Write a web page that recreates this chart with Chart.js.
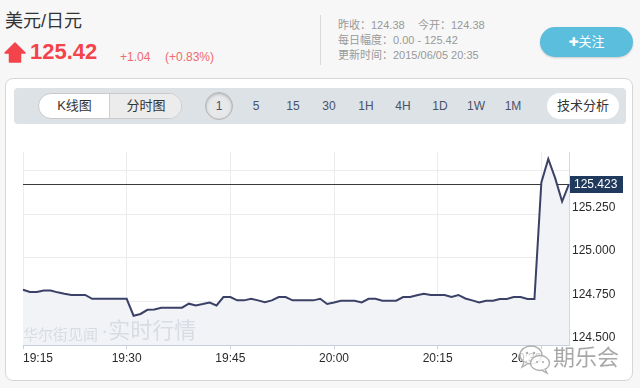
<!DOCTYPE html>
<html><head><meta charset="utf-8">
<script src="https://cdn.jsdelivr.net/npm/chart.js@4.4.1/dist/chart.umd.min.js"></script>
<style>
html,body{margin:0;padding:0;width:640px;height:388px;overflow:hidden;background:#f7f7f7;font-family:"Liberation Sans","Noto Sans CJK SC",sans-serif;}
.a{position:absolute;white-space:nowrap;}
.cjk{font-family:"Liberation Sans","Noto Sans CJK SC",sans-serif;}
.tb{font-size:12px;color:#4a5266;line-height:14px;top:99px;transform:translateX(-50%);}
</style></head><body>
<!-- header -->
<div class="a cjk" style="left:5px;top:11px;font-size:18px;line-height:20px;color:#333;">美元/日元</div>
<svg class="a" style="left:4px;top:42px" width="22" height="21" viewBox="0 0 22 21"><path d="M11 1 L21 11 L16.5 11 L16.5 20 L5.5 20 L5.5 11 L1 11 Z" fill="#f3434b" stroke="#f3434b" stroke-width="1.5" stroke-linejoin="round"/></svg>
<div class="a" style="left:30px;top:41px;font-size:22px;line-height:22px;font-weight:bold;color:#f3434b;">125.42</div>
<div class="a" style="left:120px;top:50px;font-size:12px;line-height:14px;color:#f26a6e;">+1.04</div>
<div class="a" style="left:165px;top:50px;font-size:12px;line-height:14px;color:#f26a6e;">(+0.83%)</div>
<div class="a" style="left:320px;top:15px;width:1px;height:50px;background:#dadada;"></div>
<div class="a cjk" style="left:338px;top:18px;font-size:11px;line-height:15px;color:#999;">昨收：124.38</div>
<div class="a cjk" style="left:418px;top:18px;font-size:11px;line-height:15px;color:#999;">今开：124.38</div>
<div class="a cjk" style="left:338px;top:33px;font-size:11px;line-height:15px;color:#999;">每日幅度：0.00 - 125.42</div>
<div class="a cjk" style="left:338px;top:48px;font-size:11px;line-height:15px;color:#999;">更新时间：2015/06/05 20:35</div>
<div class="a" style="left:540px;top:27px;width:93px;height:30px;border-radius:15px;background:#5bbedc;box-shadow:0 1px 2px rgba(0,0,0,0.18);color:#fff;text-align:center;line-height:30px;font-size:13px;"><span style="font-family:'DejaVu Sans';font-size:12px;">✚</span><span class="cjk">关注</span></div>
<!-- panel -->
<div class="a" style="left:5px;top:78px;width:628px;height:303px;box-sizing:border-box;background:#fff;border:1px solid #d6d6d6;border-radius:8px;"></div>
<div class="a" style="left:14px;top:88px;width:612px;height:36px;background:#dde2e6;border-radius:4px;"></div>
<div class="a" style="left:38px;top:93px;width:144px;height:26px;box-sizing:border-box;border:1px solid #c9c9c9;border-radius:13px;background:#fff;overflow:hidden;">
  <div class="a" style="left:70px;top:0;width:74px;height:24px;background:#ececec;border-left:1px solid #cfcfcf;"></div>
  <div class="a cjk" style="left:0;top:0;width:71px;text-align:center;font-size:13px;line-height:24px;color:#333;">K线图</div>
  <div class="a cjk" style="left:71px;top:0;width:72px;text-align:center;font-size:13px;line-height:24px;color:#333;">分时图</div>
</div>
<div class="a" style="left:205px;top:92px;width:28px;height:28px;box-sizing:border-box;border:1px solid #b3b3b3;border-radius:50%;background:#e6e8ea;box-shadow:inset 0 1px 3px rgba(0,0,0,0.25);text-align:center;line-height:26px;font-size:12px;color:#4a5266;">1</div>
<div class="a tb" style="left:256px;">5</div>
<div class="a tb" style="left:293px;">15</div>
<div class="a tb" style="left:329px;">30</div>
<div class="a tb" style="left:366px;">1H</div>
<div class="a tb" style="left:403px;">4H</div>
<div class="a tb" style="left:440px;">1D</div>
<div class="a tb" style="left:476px;">1W</div>
<div class="a tb" style="left:513px;">1M</div>
<div class="a cjk" style="left:547px;top:93px;width:72px;height:26px;border-radius:13px;background:#fff;text-align:center;line-height:26px;font-size:13px;color:#333;">技术分析</div>
<!-- chart -->
<div class="a" style="left:0;top:140px;width:640px;height:230px;"><canvas id="c" width="640" height="230"></canvas></div>
<!-- watermarks -->
<div class="a cjk" style="left:23px;top:326px;font-size:15px;line-height:18px;color:#d8dde3;">华尔街见闻</div>
<div class="a cjk" style="left:101px;top:318px;font-size:22px;line-height:26px;color:#d8dde3;">·实时行情</div>
<svg class="a" style="left:518px;top:343px" width="34" height="32" viewBox="0 0 34 32">
  <ellipse cx="13" cy="12" rx="11" ry="9" fill="rgba(255,255,255,0.75)" stroke="#b0b0b0" stroke-width="1.4"/>
  <path d="M6 19 L4 24 L10 20.5" fill="rgba(255,255,255,0.75)" stroke="#b0b0b0" stroke-width="1.4"/>
  <ellipse cx="22" cy="20" rx="9.5" ry="7.5" fill="rgba(255,255,255,0.8)" stroke="#b0b0b0" stroke-width="1.4"/>
  <path d="M27 26 L29 30 L24 27.3" fill="rgba(255,255,255,0.8)" stroke="#b0b0b0" stroke-width="1.4"/>
  <circle cx="9" cy="10" r="1.3" fill="#b0b0b0"/><circle cx="16" cy="10" r="1.3" fill="#b0b0b0"/>
  <circle cx="19" cy="19" r="1.1" fill="#b0b0b0"/><circle cx="25" cy="19" r="1.1" fill="#b0b0b0"/>
</svg>
<div class="a cjk" style="left:553px;top:345px;font-size:22px;line-height:26px;color:#a8a8a8;">期乐会</div>
<script>
// ---- data ----
const startHour = 19, startMin = 15;
const prices = [
  124.817,124.804,124.804,124.813,124.813,124.802,124.794,124.787,124.787,124.787,
  124.765,124.765,124.765,124.765,124.765,124.765,124.668,124.678,124.702,124.704,
  124.714,124.714,124.714,124.714,124.737,124.727,124.735,124.744,124.727,124.775,
  124.775,124.756,124.756,124.765,124.756,124.746,124.756,124.775,124.775,124.756,
  124.756,124.756,124.756,124.765,124.735,124.744,124.754,124.754,124.754,124.744,
  124.765,124.765,124.754,124.754,124.754,124.775,124.775,124.785,124.794,124.787,
  124.787,124.787,124.775,124.787,124.767,124.756,124.744,124.754,124.754,124.764,
  124.764,124.775,124.775,124.764,124.764,125.432,125.567,125.457,125.323,125.423
];
const times = prices.map((_, i) => {
  const t = startHour * 60 + startMin + i;
  return Math.floor(t / 60) + ':' + String(t % 60).padStart(2, '0');
});
const xTickLabels = ['19:15','19:30','19:45','20:00','20:15','20:30'];
const yTicks = [124.5, 124.75, 125.0, 125.25, 125.5];
const yLabelled = [124.5, 124.75, 125.0, 125.25];
const lastPrice = 125.423;
const yMin = 124.5, yMax = 125.607;

const tickFont = {family: '"Liberation Sans", Arial, sans-serif', size: 12};

const pricePlugin = {
  id: 'priceLine',
  beforeDatasetsDraw(chart) {
    const {ctx, chartArea: a, scales: {y}} = chart;
    const py = Math.round(y.getPixelForValue(lastPrice)) + 0.5;
    ctx.save();
    ctx.strokeStyle = '#3a3a3a'; ctx.lineWidth = 1;
    ctx.beginPath(); ctx.moveTo(a.left, py); ctx.lineTo(a.right, py); ctx.stroke();
    ctx.restore();
  },
  afterDraw(chart) {
    const {ctx, chartArea: a, scales: {y}} = chart;
    const py = Math.round(y.getPixelForValue(lastPrice));
    ctx.save();
    ctx.fillStyle = '#1f3a5c';
    ctx.fillRect(a.right + 1, py - 8, 53, 17);
    ctx.fillStyle = '#fff';
    ctx.font = '12px "Liberation Sans", Arial, sans-serif';
    ctx.textBaseline = 'middle'; ctx.textAlign = 'left';
    ctx.fillText(lastPrice.toFixed(3), a.right + 5, py + 1);
    ctx.restore();
  }
};

new Chart(document.getElementById('c'), {
  type: 'line',
  data: {
    labels: times,
    datasets: [{
      data: prices,
      borderColor: '#3b4166',
      borderWidth: 2,
      pointRadius: 0,
      tension: 0,
      fill: 'start',
      backgroundColor: '#f1f3f7'
    }]
  },
  options: {
    responsive: false,
    animation: false,
    layout: {padding: {left: 23, top: 12, right: 0, bottom: 0}},
    plugins: {legend: {display: false}, tooltip: {enabled: false}},
    scales: {
      x: {
        type: 'category',
        offset: false,
        afterFit(s) { s.height = 25; },
        grid: {color: '#ececec', tickColor: '#c6d1dd', tickLength: 4, drawTicks: true},
        border: {color: '#c6d1dd'},
        ticks: {
          autoSkip: false, maxRotation: 0, align: 'inner', padding: 2,
          color: '#2a2a2a', font: tickFont,
          callback: (v, i) => xTickLabels.includes(times[i]) ? times[i] : null
        }
      },
      y: {
        position: 'right',
        min: yMin, max: yMax,
        afterFit(s) { s.width = 71; },
        afterBuildTicks(s) { s.ticks = yTicks.map(v => ({value: v})); },
        grid: {color: '#ececec', drawTicks: false},
        border: {color: '#d0d9e3'},
        ticks: {
          padding: 3, labelOffset: -7, color: '#2a2a2a', font: tickFont,
          callback: v => yLabelled.includes(v) ? v.toFixed(3) : ''
        }
      }
    }
  },
  plugins: [pricePlugin]
});
</script>
</body></html>
